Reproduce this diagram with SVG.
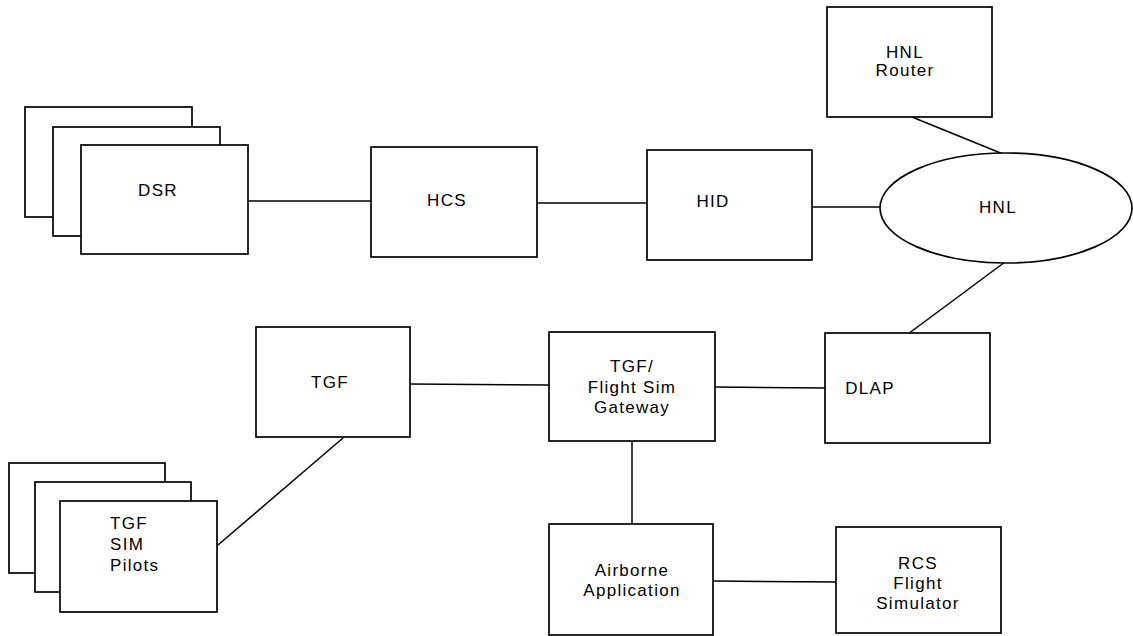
<svg xmlns="http://www.w3.org/2000/svg" width="1133" height="636" viewBox="0 0 1133 636">
<style>
.b{fill:#fff;stroke:#000;stroke-width:1.7}
.c line{stroke:#000;stroke-width:1.5}
text{font-family:"Liberation Sans",Arial,sans-serif;font-size:17px;letter-spacing:1.3px;fill:#000;text-anchor:middle}
.l{text-anchor:start}
</style>
<rect width="1133" height="636" fill="#fff"/>
<g class="c" id="connectors">
<line x1="248" y1="201" x2="371" y2="201"/>
<line x1="537" y1="203" x2="647" y2="203"/>
<line x1="812" y1="207" x2="880" y2="207"/>
<line x1="912" y1="117" x2="1003" y2="154"/>
<line x1="1005" y1="262" x2="908" y2="334"/>
<line x1="410" y1="384" x2="549" y2="385"/>
<line x1="715" y1="387" x2="825" y2="388"/>
<line x1="632" y1="441" x2="632" y2="524"/>
<line x1="713" y1="581" x2="836" y2="582"/>
<line x1="343" y1="438" x2="218" y2="545"/>
</g>
<g id="dsr">
<rect class="b" x="25" y="107" width="167" height="110"/>
<rect class="b" x="53" y="127" width="167" height="109"/>
<rect class="b" x="81" y="145" width="167" height="109"/>
<text x="158" y="196">DSR</text>
</g>
<g id="hcs">
<rect class="b" x="371" y="147" width="166" height="110"/>
<text x="447" y="206">HCS</text>
</g>
<g id="hid">
<rect class="b" x="647" y="150" width="165" height="110"/>
<text x="713" y="207">HID</text>
</g>
<g id="hnl-router">
<rect class="b" x="827" y="7" width="165" height="110"/>
<text x="905" y="58">HNL</text>
<text x="905" y="76">Router</text>
</g>
<g id="hnl">
<ellipse class="b" cx="1006" cy="208" rx="126" ry="55"/>
<text x="998" y="213">HNL</text>
</g>
<g id="tgf">
<rect class="b" x="256" y="327" width="154" height="110"/>
<text x="330" y="388">TGF</text>
</g>
<g id="gateway">
<rect class="b" x="549" y="332" width="166" height="109"/>
<text x="632" y="372">TGF/</text>
<text x="632" y="393">Flight Sim</text>
<text x="632" y="413">Gateway</text>
</g>
<g id="dlap">
<rect class="b" x="825" y="333" width="165" height="110"/>
<text x="870" y="394">DLAP</text>
</g>
<g id="tgf-sim-pilots">
<rect class="b" x="9" y="463" width="156" height="110"/>
<rect class="b" x="35" y="482" width="156" height="110"/>
<rect class="b" x="60" y="501" width="157" height="111"/>
<text class="l" x="110" y="529">TGF</text>
<text class="l" x="110" y="550">SIM</text>
<text class="l" x="110" y="571">Pilots</text>
</g>
<g id="airborne">
<rect class="b" x="549" y="524" width="164" height="111"/>
<text x="632" y="576">Airborne</text>
<text x="632" y="596">Application</text>
</g>
<g id="rcs">
<rect class="b" x="836" y="527" width="165" height="106"/>
<text x="918" y="569">RCS</text>
<text x="918" y="589">Flight</text>
<text x="918" y="609">Simulator</text>
</g>
</svg>
